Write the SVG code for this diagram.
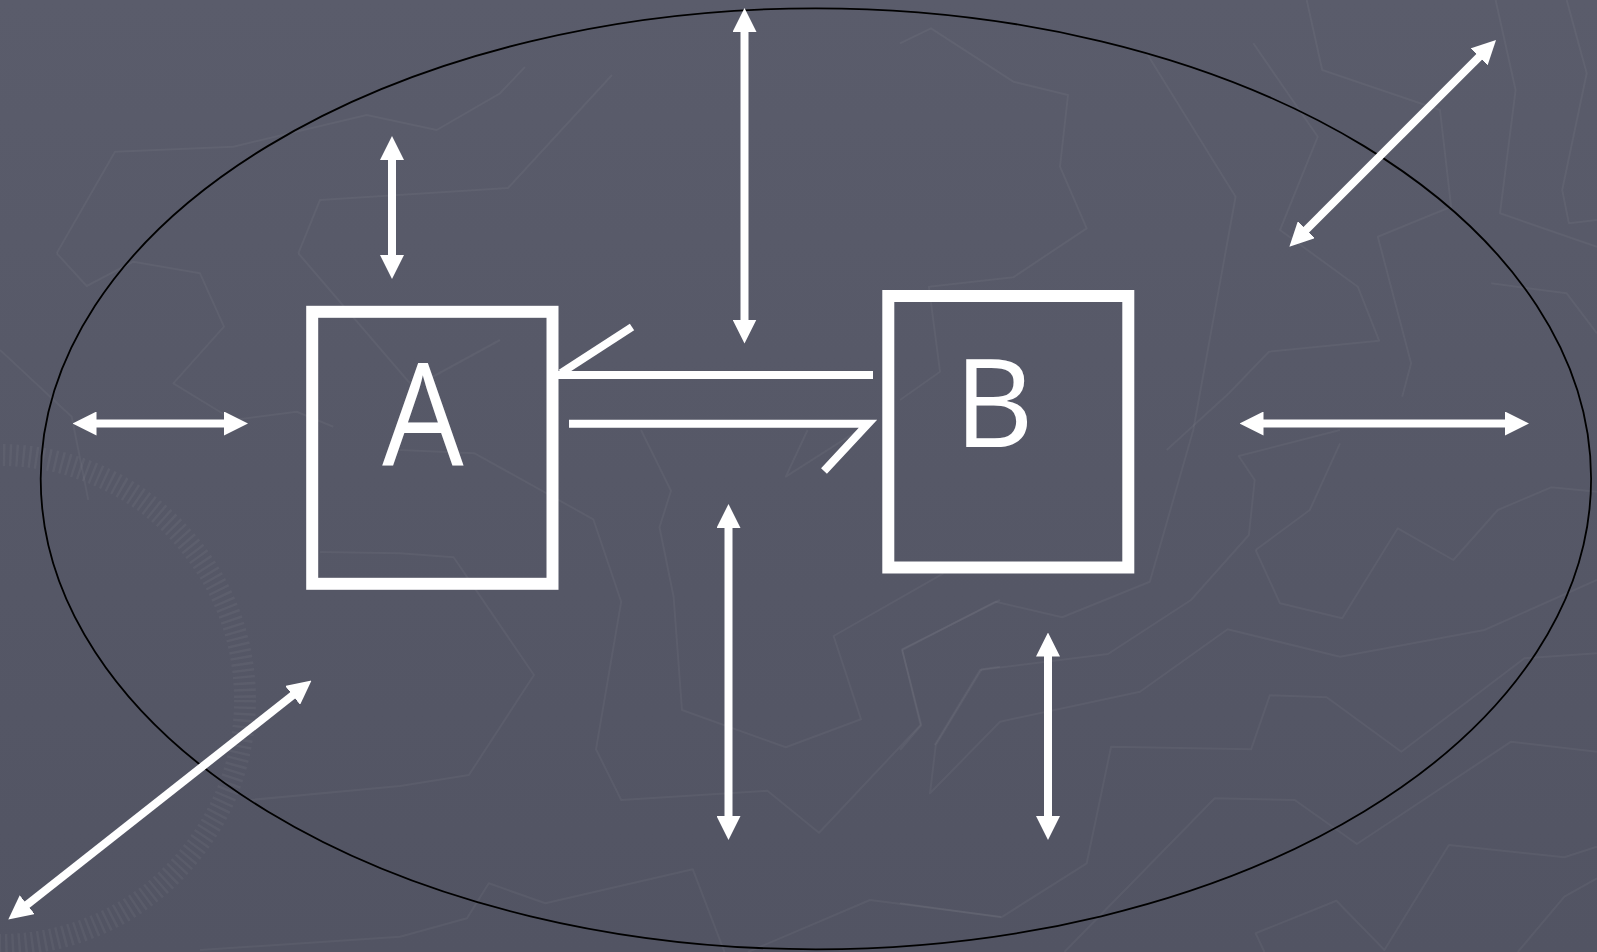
<svg xmlns="http://www.w3.org/2000/svg" width="1597" height="952" viewBox="0 0 1597 952">
  <defs>
    <linearGradient id="bg" x1="0" y1="0" x2="0" y2="1">
      <stop offset="0" stop-color="#5a5c6b"/>
      <stop offset="1" stop-color="#525463"/>
    </linearGradient>
    <marker id="ah" viewBox="0 0 24 24" markerWidth="24" markerHeight="24" markerUnits="userSpaceOnUse" refX="4" refY="12" orient="auto-start-reverse">
      <path d="M0,0 L24,12 L0,24 z" fill="#ffffff"/>
    </marker>
    <style>
      .tex { fill: none; stroke: #ffffff; stroke-opacity: 0.045; stroke-width: 2; stroke-linejoin: round; }
      .box { fill: none; stroke: #ffffff; stroke-width: 12; }
      .lbl { fill: #ffffff; font-family: "Open Sans", "Noto Sans", "DejaVu Sans", sans-serif; text-anchor: middle; }
      .arr { stroke: #ffffff; stroke-width: 8; fill: none; marker-start: url(#ah); marker-end: url(#ah); }
      .con { stroke: #ffffff; stroke-width: 8; fill: none; stroke-linejoin: miter; }
    </style>
  </defs>

  <rect x="0" y="0" width="1597" height="952" fill="url(#bg)"/>

  <g id="background-texture">
    <polyline class="tex" points="56.7,253.3 115,151.7 233.3,146.7 366.7,115 436.7,130 500,93.3 525,67"/>
    <polyline class="tex" points="56.7,253.3 86.7,286 133.3,261.7 200,273.3 224,326.7 173.3,383.3 233.3,420 296.7,411.7 333.3,426.7"/>
    <polyline class="tex" points="0,350 71.7,416.7 88.3,500"/>
    <polyline class="tex" points="298.3,253.3 320,200 508,188 612,75"/>
    <polyline class="tex" points="298.3,253.3 410,383.3"/>
    <polyline class="tex" points="500,340 426.7,380"/>
    <polyline class="tex" points="400,450 474.6,453.3 593.3,519.3 621.2,601.7 596,749.3 621.2,800 767.4,790.7 819,832.7 920.5,725 902,649.3 1000,600"/>
    <polyline class="tex" points="320,552 400,553.3 453.6,557.3 534,675 468.9,775 400,786 250,800"/>
    <polyline class="tex" points="641,430 671,490.7 659.5,527.3 673.6,596.7 682,710 785.8,747.3 861,719.3 833.6,636 943.4,573.3"/>
    <polyline class="tex" points="807.6,430 785.8,476.7 859,430"/>
    <polyline class="tex" points="1000,666.7 981.7,669.3 935.8,745 930,793.3 1000,721.7 1140,691.7 1227.6,629.3 1340,656.7 1484.4,630 1596.9,580"/>
    <polyline class="tex" points="200,950 400,936.7 467,918.3 488.8,883.3 545.4,903.3 692.8,869.3 724.5,952"/>
    <polyline class="tex" points="748,952 870,900 1000,916.7 1001.3,917.3 1086.7,863.3 1111.1,746.7 1251.1,749.3 1269.8,695.3 1326.7,697.3 1401.3,751.7 1524.4,658.3 1596.9,653.3"/>
    <polyline class="tex" points="900,903.3 1001.3,917.3"/>
    <polyline class="tex" points="902.2,650 995.6,601.7 1062.2,617.3 1149.8,581.7 1193.3,430 1235.6,196.7 1146.7,53.3"/>
    <polyline class="tex" points="902.2,650 921.3,725 900,750"/>
    <polyline class="tex" points="934.7,745 980,670 1108,654 1191,600 1248.9,535 1254.7,480 1238.7,456 1340,430"/>
    <polyline class="tex" points="1255.6,550 1309.8,510 1340,443.3"/>
    <polyline class="tex" points="1255.6,550 1280,603.3 1342.2,618.3 1397.8,528.3 1453.3,560 1497.8,510 1551.1,487.3 1596.9,491.7"/>
    <polyline class="tex" points="1064.4,952 1214.7,798.3 1294.7,800 1356.9,844 1511.1,741.7 1596.9,751.7"/>
    <polyline class="tex" points="1264.4,952 1255.6,933.3 1336.4,900.7 1384.4,950 1448.9,845 1564.4,857.3 1596.9,846.7"/>
    <polyline class="tex" points="1517.8,952 1564.4,896.7 1596.9,878.3"/>
    <polyline class="tex" points="900,43.3 931,28.3 1013.3,81.7 1068,95 1060,166.7 1086.7,228.3 1013.3,277.3 928.9,286.7 940,371.7 900,400"/>
    <polyline class="tex" points="1253.3,43.3 1317.8,136.7 1280,230 1357.8,286.7 1379.1,340.7 1268.9,351.7 1228.9,393.3 1166.7,450"/>
    <polyline class="tex" points="1306.7,0 1322.2,70 1440,110 1451.1,206.7 1377.8,236.7 1411.1,363.3 1402.2,396.7"/>
    <polyline class="tex" points="1495.6,0 1515.6,90 1500,213.3 1596.9,246.7"/>
    <polyline class="tex" points="1566.7,0 1586.7,73.3 1562.2,190 1568.9,223.3 1596.9,220"/>
    <polyline class="tex" points="1491.1,283.3 1566.7,293.3 1596.9,333.3"/>
    <circle cx="0" cy="700" r="245" fill="none" stroke="#ffffff" stroke-opacity="0.045" stroke-width="22" stroke-dasharray="2.5 4"/>
  </g>

  <ellipse id="boundary" cx="815.9" cy="478.8" rx="775.2" ry="470.5" fill="none" stroke="#000000" stroke-width="1.8"/>

  <g id="node-A">
    <rect class="box" x="312.2" y="311.8" width="240.3" height="272"/>
    <text class="lbl" font-size="143" transform="translate(423,465) scale(0.9,1)" x="0" y="0">A</text>
  </g>

  <g id="node-B">
    <rect class="box" x="888.3" y="296" width="240" height="271.5"/>
    <text class="lbl" font-size="123" x="994" y="447">B</text>
  </g>

  <g id="connectors">
    <line class="con" x1="556" y1="375" x2="873" y2="375"/>
    <line class="con" x1="561" y1="373" x2="632" y2="327"/>
    <polyline class="con" points="569,423.7 868,423.7 824,471"/>

    <line class="arr" x1="392" y1="156" x2="392" y2="259"/>
    <line class="arr" x1="744.5" y1="28" x2="744.5" y2="323.5"/>
    <line class="arr" x1="728.5" y1="524" x2="728.5" y2="820"/>
    <line class="arr" x1="1048" y1="652.5" x2="1048" y2="820"/>
    <line class="arr" x1="92.5" y1="423.5" x2="228" y2="423.5"/>
    <line class="arr" x1="1259.5" y1="423.5" x2="1509" y2="423.5"/>
    <line class="arr" x1="1303.5" y1="232.5" x2="1481.9" y2="54.1"/>
    <line class="arr" x1="24" y1="907.1" x2="295.8" y2="692.9"/>
  </g>
</svg>
